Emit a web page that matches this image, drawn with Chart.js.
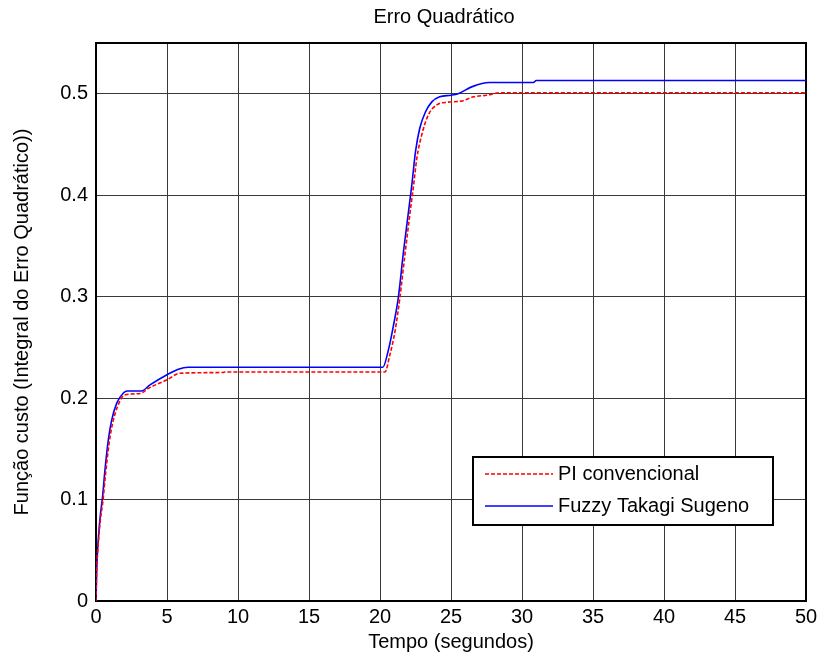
<!DOCTYPE html>
<html>
<head>
<meta charset="utf-8">
<script src="https://cdn.jsdelivr.net/npm/chart.js@4/dist/chart.umd.min.js"></script>
<style>
  html, body { margin: 0; padding: 0; background: #fff; }
  canvas { display: block; }
</style>
</head>
<body>
<canvas id="grafico" width="817" height="659"></canvas>
<script>
// --- dados ---
const tituloGrafico = "Erro Quadrático";
const rotuloX = "Tempo (segundos)";
const rotuloY = "Função custo (Integral do Erro Quadrático))";
const nomesSeries = ["PI convencional", "Fuzzy Takagi Sugeno"];

const tempoPI = [0, 0.05, 0.17, 0.3, 0.5, 0.67, 0.92, 1.15, 1.5, 2.0, 3.1, 3.7, 5.0, 5.9, 8.9, 9.1,
  20.35, 20.7, 21.06, 21.4, 21.76, 22.1, 22.35, 22.6, 22.95, 23.4, 24.0, 24.8, 25.7, 26.6, 27.5, 28.5, 50];
const valoresPI = [0, 0.03, 0.058, 0.079, 0.1, 0.125, 0.155, 0.174, 0.191, 0.203, 0.2045, 0.2097, 0.218, 0.2245, 0.2252, 0.2257,
  0.2257, 0.243, 0.266, 0.299, 0.342, 0.381, 0.408, 0.437, 0.46, 0.479, 0.489, 0.4917, 0.4927, 0.497, 0.4985, 0.501, 0.501];

const tempoFuzzy = [0, 0.05, 0.16, 0.28, 0.47, 0.63, 0.87, 1.1, 1.46, 1.93, 2.2, 3.2, 3.8, 5.0, 5.8, 6.5,
  20.2, 20.6, 20.94, 21.3, 21.65, 22.0, 22.24, 22.5, 22.8, 23.2, 23.65, 24.2, 25.0, 25.5, 26.5, 27.7, 30.8, 31.0, 50];
const valoresFuzzy = [0, 0.031, 0.06, 0.081, 0.104, 0.129, 0.159, 0.178, 0.195, 0.205, 0.207, 0.207, 0.213, 0.223, 0.2285, 0.2304,
  0.2304, 0.248, 0.271, 0.3, 0.344, 0.383, 0.41, 0.443, 0.466, 0.482, 0.492, 0.497, 0.4985, 0.5, 0.507, 0.511, 0.511, 0.513, 0.513];

const fonte = "'Liberation Sans', Arial, sans-serif";

// --- título, moldura e legenda no estilo do MATLAB ---
const estiloMatlab = {
  id: 'estiloMatlab',
  beforeDatasetsDraw(chart) {
    const {ctx, chartArea: a} = chart;
    ctx.save();
    ctx.strokeStyle = '#000';
    ctx.lineWidth = 2;
    ctx.strokeRect(a.left, a.top, a.right - a.left, a.bottom - a.top);
    ctx.restore();
  },
  afterDraw(chart) {
    const {ctx, chartArea: a} = chart;
    ctx.save();
    ctx.fillStyle = '#000';
    ctx.font = "20px " + fonte;
    ctx.textAlign = 'center';
    ctx.textBaseline = 'middle';
    ctx.fillText(tituloGrafico, (a.left + a.right) / 2 - 7, 17);

    // legenda
    const bx = 473, by = 457, bw = 300, bh = 68;
    ctx.fillStyle = '#fff';
    ctx.fillRect(bx, by, bw, bh);
    ctx.strokeStyle = '#000';
    ctx.lineWidth = 2;
    ctx.strokeRect(bx, by, bw, bh);
    chart.data.datasets.forEach((ds, i) => {
      const y = by + 17 + i * 32;
      ctx.beginPath();
      ctx.strokeStyle = ds.borderColor;
      ctx.lineWidth = ds.borderWidth;
      ctx.setLineDash(ds.borderDash || []);
      ctx.moveTo(bx + 12, y);
      ctx.lineTo(bx + 80, y);
      ctx.stroke();
      ctx.setLineDash([]);
      ctx.fillStyle = '#000';
      ctx.textAlign = 'left';
      ctx.fillText(ds.label, bx + 85, y);
    });
    ctx.restore();
  }
};

const pares = (xs, ys) => xs.map((x, i) => ({x: x, y: ys[i]}));

new Chart(document.getElementById('grafico'), {
  type: 'line',
  data: {
    datasets: [{
      label: nomesSeries[0],
      data: pares(tempoPI, valoresPI),
      borderColor: '#ff0000',
      borderWidth: 1.6,
      borderDash: [4, 2],
      pointRadius: 0,
      cubicInterpolationMode: 'monotone'
    }, {
      label: nomesSeries[1],
      data: pares(tempoFuzzy, valoresFuzzy),
      borderColor: '#0000ff',
      borderWidth: 1.6,
      pointRadius: 0,
      cubicInterpolationMode: 'monotone'
    }]
  },
  options: {
    responsive: false,
    animation: false,
    devicePixelRatio: 1,
    layout: { padding: { top: 43, right: 11, left: 0, bottom: 0 } },
    plugins: { legend: { display: false }, tooltip: { enabled: false } },
    scales: {
      x: {
        type: 'linear', min: 0, max: 50,
        afterFit: s => { s.height = 58; s.paddingRight = 0; s.paddingLeft = 0; },
        ticks: { stepSize: 5, padding: 4, color: '#000', font: { family: fonte, size: 20 }, maxRotation: 0 },
        grid: { color: '#3a3a3a', lineWidth: 1, drawTicks: false },
        border: { display: false },
        title: { display: true, text: rotuloX, color: '#000', font: { family: fonte, size: 20 }, padding: { top: 0, bottom: 5 } }
      },
      y: {
        min: 0, max: 0.55,
        afterFit: s => { s.width = 96; s.paddingTop = 0; s.paddingBottom = 0; },
        ticks: { stepSize: 0.1, includeBounds: false, padding: 8, color: '#000', font: { family: fonte, size: 20 } },
        grid: { color: '#3a3a3a', lineWidth: 1, drawTicks: false },
        border: { display: false },
        title: { display: true, text: rotuloY, color: '#000', font: { family: fonte, size: 20 }, padding: { top: 10, bottom: 0 } }
      }
    }
  },
  plugins: [estiloMatlab]
});
</script>
</body>
</html>
